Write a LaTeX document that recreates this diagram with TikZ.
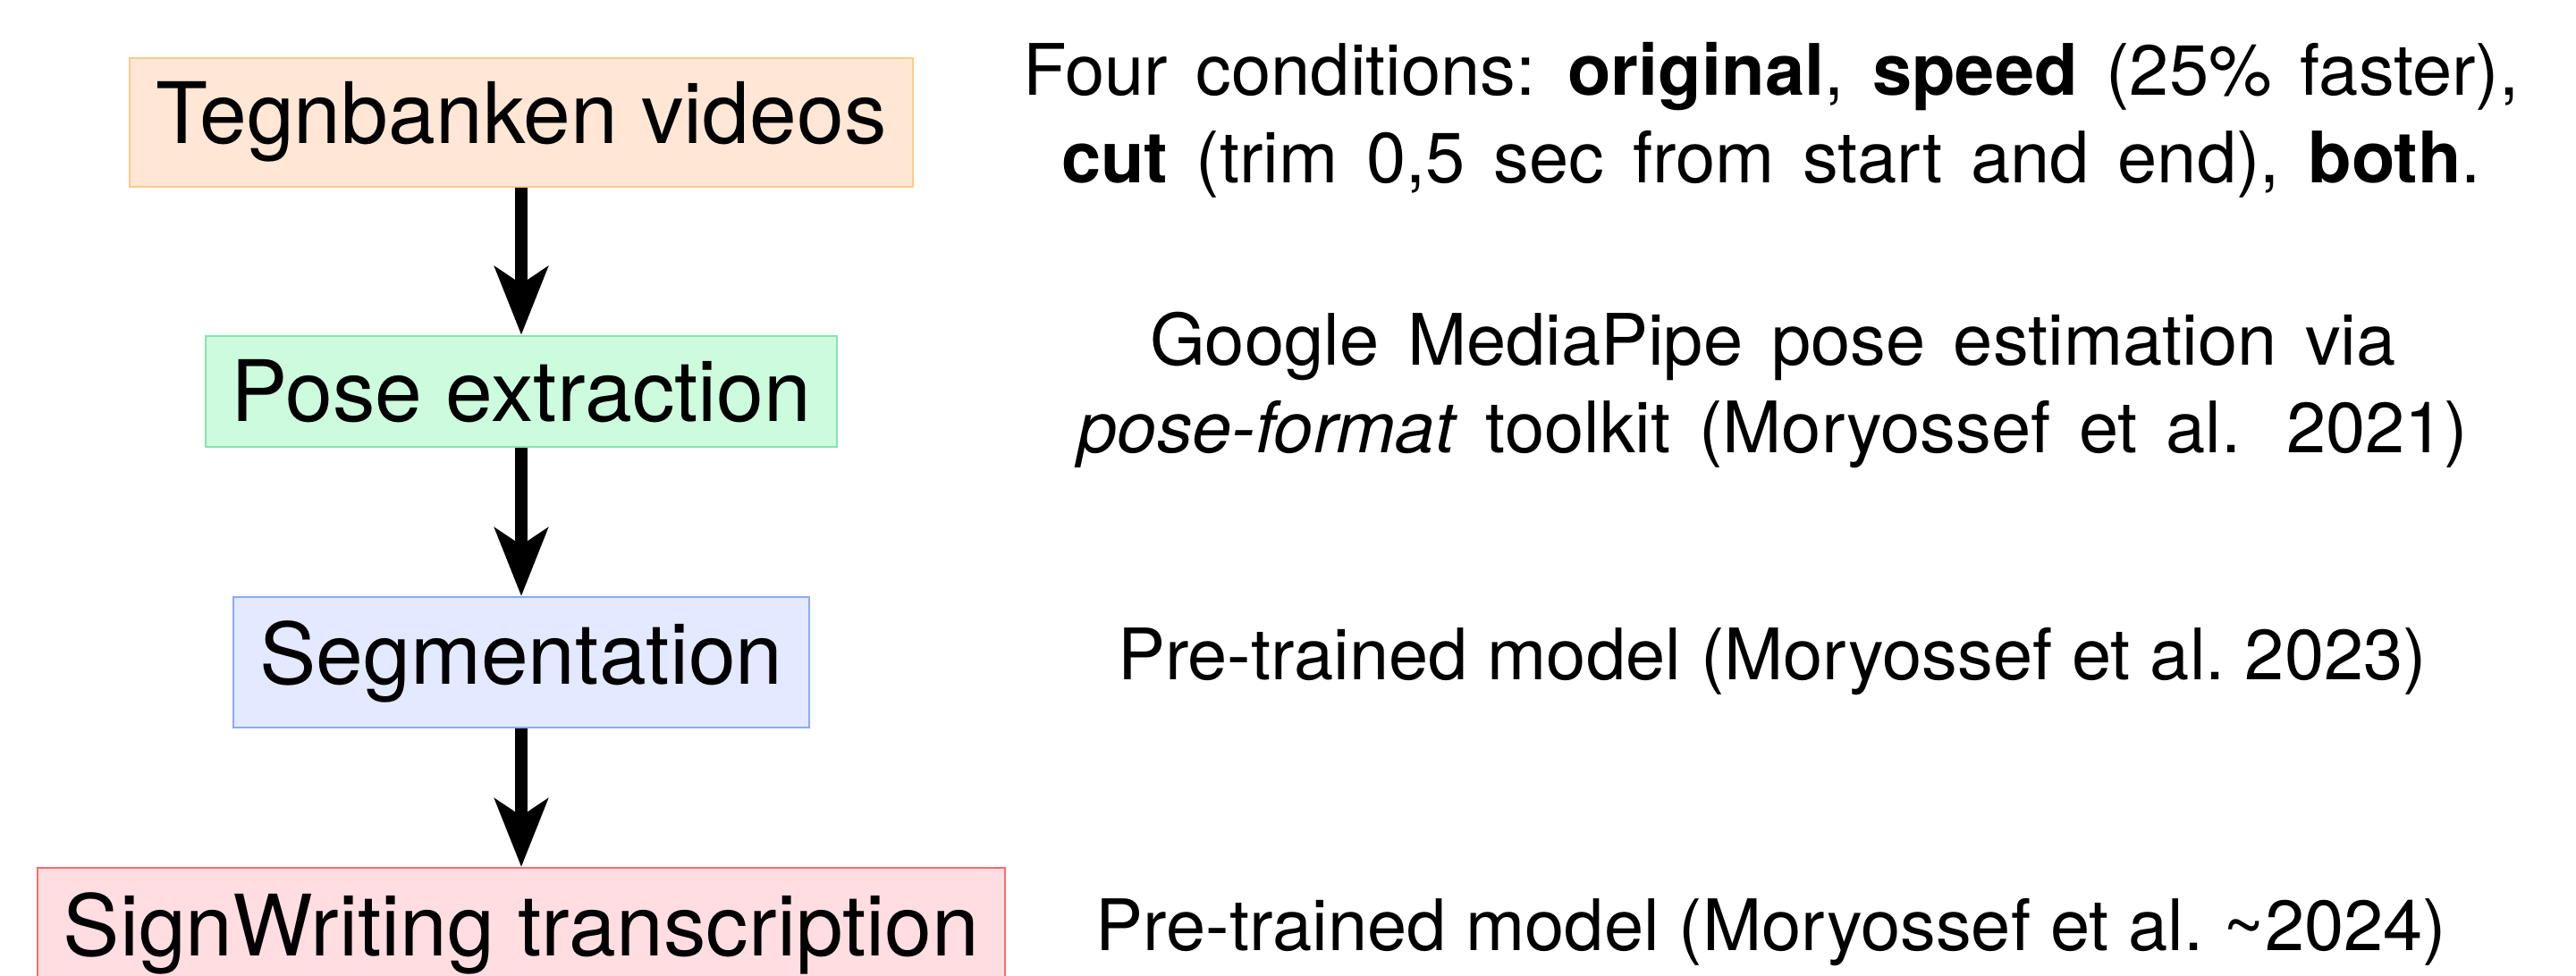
\documentclass[tikz,border=0pt]{standalone}
\usepackage{fontspec}
\setmainfont{TeX Gyre Heros}
\usetikzlibrary{arrows.meta}
\definecolor{vidsfill}{HTML}{FFE6D5}
\definecolor{vidsline}{HTML}{FFC98A}
\definecolor{posefill}{HTML}{CCFCDD}
\definecolor{poseline}{HTML}{88E3AE}
\definecolor{segfill}{HTML}{E3E9FE}
\definecolor{segline}{HTML}{8AAAF8}
\definecolor{swfill}{HTML}{FFDDE0}
\definecolor{swline}{HTML}{FF6B6B}
\newcommand\widespaces{\spaceskip=0.4em plus 0.1em\relax}
\tikzset{
  stage/.style={draw, line width=0.6pt, anchor=base, inner xsep=0.29cm, inner ysep=0.27cm,
    font=\fontsize{27}{33}\selectfont},
  note/.style={anchor=base, align=center, inner sep=0pt,
    font=\fontsize{22.6}{27.9}\selectfont},
  widenote/.style={note, font=\fontsize{22.6}{27.9}\selectfont\widespaces},
  flow/.style={line width=4.2pt, -{Stealth[length=0.76cm, width=0.59cm, inset=0.19cm]}}
}
\begin{document}
\begin{tikzpicture}
\useasboundingbox (0,0) rectangle (28.81,10.91);
%% pipeline
\node[stage, fill=vidsfill, draw=vidsline] (vids) at (5.83,9.30) {Tegnbanken videos};
\node[stage, fill=posefill, draw=poseline] (pose) at (5.83,6.19) {Pose extraction};
\node[stage, fill=segfill, draw=segline] (seg) at (5.83,3.25) {Segmentation};
\node[stage, fill=swfill, draw=swline] (sw) at (5.83,0.22) {SignWriting transcription};
%%
\draw[flow] (vids) -- (pose);
\draw[flow] (pose) -- (seg);
\draw[flow] (seg) -- (sw);
%% notes
\node[widenote] (vidsnote) at (19.81,8.86) {Four conditions:\hspace{0.45em}\textbf{original}, \textbf{speed} (25\% faster),\\
  \textbf{cut} (trim 0,5 sec from start and end), \textbf{both}.};
\node[widenote] (posenote) at (19.83,5.84) {Google MediaPipe pose estimation via\\
  \textit{pose-format} toolkit (Moryossef et al.\hspace{0.64em}2021)};
\node[note] (segnote) at (19.82,3.30) {Pre-trained model (Moryossef et al.\ 2023)};
\node[note] (swnote) at (19.81,0.275) {Pre-trained model (Moryossef et al.\ \textasciitilde2024)};
\end{tikzpicture}
\end{document}
